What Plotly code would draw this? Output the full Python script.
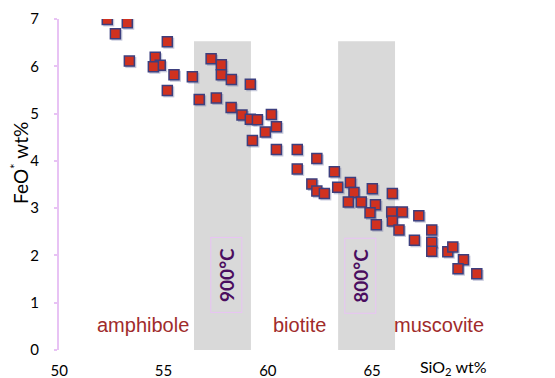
import plotly.graph_objects as go

# ---- data ----
sio2 = [52.30, 53.26, 52.69, 55.18, 53.36, 54.60, 54.84, 54.51, 55.50, 56.38,
        55.18, 57.28, 57.77, 57.77, 58.25, 59.16, 56.71, 57.53, 58.24, 58.76,
        59.16, 59.50, 60.17, 60.41, 59.88, 59.26, 60.41, 61.41, 62.35, 61.41,
        63.19, 62.11, 62.35, 62.71, 63.35, 63.96, 64.13, 63.86, 64.48, 65.01,
        65.97, 65.16, 64.90, 65.94, 66.45, 65.97, 65.20, 66.29, 67.24, 67.03,
        67.86, 67.86, 67.86, 68.63, 68.87, 69.38, 69.12, 70.02]
feo = [6.99, 6.92, 6.69, 6.52, 6.11, 6.19, 6.02, 5.99, 5.82, 5.78,
       5.49, 6.16, 6.03, 5.82, 5.72, 5.62, 5.30, 5.33, 5.13, 4.97,
       4.88, 4.87, 4.98, 4.72, 4.61, 4.43, 4.24, 4.24, 4.05, 3.83,
       3.77, 3.51, 3.36, 3.31, 3.44, 3.54, 3.33, 3.13, 3.13, 3.41,
       3.31, 3.07, 2.90, 2.92, 2.92, 2.73, 2.65, 2.54, 2.84, 2.32,
       2.54, 2.28, 2.09, 2.08, 2.18, 1.91, 1.72, 1.61]

x_tick_labels = [50, 55, 60, 65]
x_tick_marks = [50, 55, 60, 65, 70]
y_ticks = [0, 1, 2, 3, 4, 5, 6, 7]

bands = [(56.46, 59.19), (63.37, 66.10)]
band_top = 6.53
temp_labels = ["900°C", "800°C"]
temp_pos = [(58.0, 1.59), (64.42, 1.57)]
minerals = ["amphibole", "biotite", "muscovite"]
mineral_x = [53.99, 61.50, 68.21]
mineral_y = 0.53

PINK = "#E8C3F4"
W, H = 555, 378
ML, MR, MT, MB = 59, 0, 19, 28
PW, PH = W - ML - MR, H - MT - MB
XR = [49.986, 73.77]
YR = [0, 7]
# drop shadow offset of the markers, in pixels (right, down)
SHX, SHY = 1.5, 1.5
dx = SHX * (XR[1] - XR[0]) / PW
dy = SHY * (YR[1] - YR[0]) / PH

fig = go.Figure()
# shadow of the markers (drawn on a slightly shifted overlay axis pair)
fig.add_trace(go.Scatter(
    x=sio2, y=feo, mode="markers", xaxis="x3", yaxis="y3",
    marker=dict(symbol="square", size=11, color="rgba(70,80,140,0.30)", line=dict(width=0)),
    showlegend=False, hoverinfo="skip"))
fig.add_trace(go.Scatter(
    x=sio2, y=feo, mode="markers", xaxis="x4", yaxis="y4",
    marker=dict(symbol="square", size=10, color="#D0311F",
                line=dict(color="#3D3F7E", width=1.5)),
    showlegend=False, hoverinfo="skip"))

shapes = []
for x0, x1 in bands:
    shapes.append(dict(type="rect", xref="x", yref="y", x0=x0, x1=x1, y0=0, y1=band_top,
                       fillcolor="#D9D9D9", line=dict(width=0), layer="below"))

ann = []
for name, mx in zip(minerals, mineral_x):
    ann.append(dict(x=mx, y=mineral_y, xref="x", yref="y", text=name, showarrow=False,
                    xanchor="center", yanchor="middle",
                    font=dict(family="Liberation Sans", size=20, color="#A02B2B")))
for t, (tx, ty) in zip(temp_labels, temp_pos):
    ann.append(dict(x=tx, y=ty, xref="x", yref="y", text="<b>" + t + "</b>", showarrow=False,
                    xanchor="center", yanchor="middle",
                    textangle=-90, width=74, height=30, bordercolor=PINK, borderwidth=1,
                    borderpad=0, font=dict(family="Lato", size=19, color="#4B0D5F")))
ann.append(dict(x=(20 - ML) / PW, y=0.565, xref="paper", yref="paper",
                xanchor="center", yanchor="middle",
                text="FeO<sup>*</sup> wt%", showarrow=False, textangle=-90,
                font=dict(family="Lato", size=19, color="#000000")))
ann.append(dict(x=68.9, y=-0.054, xref="x", yref="paper",
                xanchor="center", yanchor="middle",
                text="SiO<sub>2</sub> wt%", showarrow=False,
                font=dict(family="Lato", size=16, color="#000000")))

hidden = dict(visible=False, showgrid=False, zeroline=False)
fig.update_layout(
    width=W, height=H,
    margin=dict(l=ML, r=MR, t=MT, b=MB, autoexpand=False),
    paper_bgcolor="white", plot_bgcolor="white",
    shapes=shapes, annotations=ann,
    xaxis=dict(range=XR, tickvals=x_tick_labels, automargin=False,
               ticks="outside", ticklen=7, tickcolor="rgba(0,0,0,0)",
               showline=False, showgrid=False, zeroline=False,
               tickfont=dict(family="Lato", size=15, color="#000000")),
    xaxis2=dict(domain=[(82 - ML) / PW, 1], range=[49.947, 74.842], anchor="y",
                tickvals=x_tick_marks, ticks="outside", ticklen=5, automargin=False,
                tickwidth=2, tickcolor=PINK, showline=True, linecolor=PINK, linewidth=2,
                showticklabels=False, showgrid=False, zeroline=False),
    yaxis=dict(range=YR, tickvals=y_ticks, ticks="outside", ticklen=3, tickwidth=2,
               tickcolor=PINK, showline=True, linecolor=PINK, linewidth=2, automargin=False,
               showgrid=False, zeroline=False, ticklabelstandoff=12,
               tickfont=dict(family="Lato", size=15, color="#000000")),
    xaxis3=dict(overlaying="x", range=[XR[0] - dx, XR[1] - dx], **hidden),
    yaxis3=dict(overlaying="y", range=[YR[0] + dy, YR[1] + dy], **hidden),
    xaxis4=dict(overlaying="x", range=XR, **hidden),
    yaxis4=dict(overlaying="y", range=YR, **hidden),
)

fig.write_html("out.html", config={"displayModeBar": False},
               post_script="document.body.style.margin='0';")
